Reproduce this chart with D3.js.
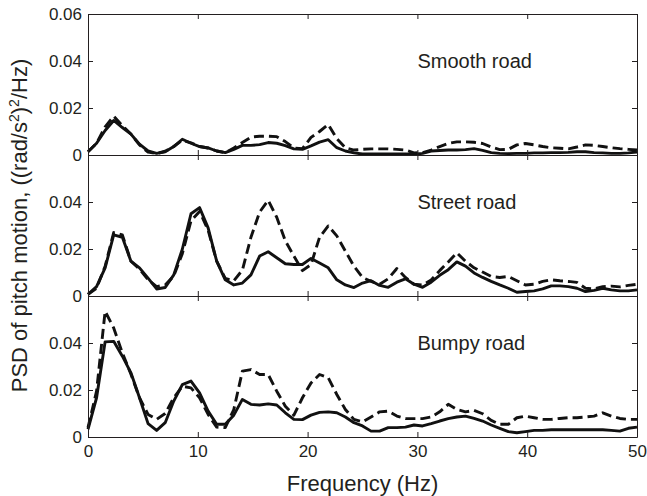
<!DOCTYPE html>
<html>
<head>
<meta charset="utf-8">
<script src="https://cdn.jsdelivr.net/npm/d3@7"></script>
<style>
  body { margin: 0; background: #fff; }
  svg text { font-family: "Liberation Sans", Arial, Helvetica, sans-serif; fill: #231f20; }
</style>
</head>
<body>
<script>
// frequency bins (Hz)
const freq = [0, 0.78, 1.56, 2.34, 3.13, 3.91, 4.69, 5.47, 6.25, 7.03, 7.81, 8.59, 9.38, 10.16, 10.94, 11.72,
  12.5, 13.28, 14.06, 14.84, 15.63, 16.41, 17.19, 17.97, 18.75, 19.53, 20.31, 21.09, 21.88, 22.66, 23.44, 24.22,
  25, 25.78, 26.56, 27.34, 28.13, 28.91, 29.69, 30.47, 31.25, 32.03, 32.81, 33.59, 34.38, 35.16, 35.94, 36.72,
  37.5, 38.28, 39.06, 39.84, 40.63, 41.41, 42.19, 42.97, 43.75, 44.53, 45.31, 46.09, 46.88, 47.66, 48.44, 49.22, 50]

// smooth road
const smoothSolid = [0.0014, 0.005, 0.0104, 0.0147, 0.0117, 0.0089, 0.0046, 0.0017, 0.0007, 0.0014, 0.0036, 0.0067,
  0.005, 0.0036, 0.003, 0.0017, 0.001, 0.0024, 0.0041, 0.0041, 0.0044, 0.0053, 0.005, 0.004, 0.0026, 0.0024,
  0.0039, 0.0055, 0.0065, 0.0031, 0.0017, 0.0009, 0.0004, 0.0004, 0.0004, 0.0004, 0.0004, 0.0004, 0.0003, 0.0007,
  0.0017, 0.0019, 0.0021, 0.0021, 0.0023, 0.0027, 0.002, 0.001, 0.0007, 0.0006, 0.0007, 0.0007, 0.0009, 0.0009,
  0.001, 0.001, 0.0011, 0.0014, 0.0014, 0.001, 0.0009, 0.0007, 0.0007, 0.0009, 0.0013]
const smoothDashed = [0.0014, 0.005, 0.012, 0.0165, 0.0125, 0.0089, 0.0043, 0.0012, 0.0006, 0.0016, 0.0036, 0.0063,
  0.0052, 0.0036, 0.003, 0.0017, 0.001, 0.003, 0.0053, 0.0076, 0.008, 0.008, 0.0078, 0.0057, 0.003, 0.0027,
  0.0075, 0.01, 0.013, 0.007, 0.0031, 0.0021, 0.0024, 0.0026, 0.0026, 0.0026, 0.0024, 0.0021, 0.0009, 0.001,
  0.0021, 0.0036, 0.0049, 0.0056, 0.0056, 0.0054, 0.0049, 0.0034, 0.0023, 0.0024, 0.0043, 0.0049, 0.0043, 0.0036,
  0.0031, 0.0029, 0.0026, 0.0034, 0.0043, 0.0041, 0.0036, 0.0031, 0.0027, 0.0024, 0.0021]

// street road
const streetSolid = [0.0007, 0.004, 0.012, 0.026, 0.025, 0.0148, 0.012, 0.0076, 0.003, 0.0036, 0.009, 0.0199,
  0.035, 0.0376, 0.029, 0.0148, 0.0069, 0.0047, 0.0055, 0.009, 0.017, 0.0188, 0.0163, 0.0137, 0.0134, 0.0134,
  0.016, 0.014, 0.012, 0.0069, 0.0047, 0.0036, 0.0055, 0.0065, 0.0045, 0.0037, 0.0059, 0.0073, 0.005, 0.0037,
  0.0059, 0.0088, 0.0112, 0.0145, 0.0127, 0.0098, 0.0079, 0.0062, 0.0047, 0.0033, 0.0016, 0.0019, 0.0022, 0.003,
  0.0043, 0.0043, 0.004, 0.0033, 0.0019, 0.0024, 0.0033, 0.0026, 0.0022, 0.0022, 0.0026]
const streetDashed = [0.0007, 0.0033, 0.0127, 0.027, 0.026, 0.0148, 0.0115, 0.007, 0.004, 0.0047, 0.0085, 0.018,
  0.032, 0.036, 0.028, 0.0148, 0.0075, 0.0065, 0.011, 0.025, 0.0357, 0.0407, 0.0335, 0.0235, 0.017, 0.0108,
  0.0134, 0.025, 0.0298, 0.0256, 0.0191, 0.0127, 0.0079, 0.0062, 0.005, 0.0073, 0.0117, 0.0079, 0.005, 0.0047,
  0.0068, 0.0108, 0.0145, 0.0184, 0.0148, 0.012, 0.0102, 0.0083, 0.0079, 0.0083, 0.0065, 0.0047, 0.005, 0.0062,
  0.0069, 0.0065, 0.0062, 0.0058, 0.0033, 0.003, 0.004, 0.0042, 0.0039, 0.0045, 0.005]

// bumpy road
const bumpySolid = [0.0033, 0.0167, 0.0405, 0.0407, 0.0344, 0.0273, 0.0167, 0.0057, 0.0028, 0.0061, 0.0153, 0.0223,
  0.0238, 0.0188, 0.011, 0.0054, 0.0054, 0.0093, 0.016, 0.0139, 0.0136, 0.0141, 0.0136, 0.0103, 0.0075, 0.0074,
  0.0093, 0.0105, 0.0107, 0.0103, 0.0085, 0.0061, 0.0047, 0.0025, 0.0025, 0.004, 0.004, 0.0042, 0.0051, 0.0047,
  0.0057, 0.0068, 0.0078, 0.0085, 0.0089, 0.0079, 0.0068, 0.0051, 0.0037, 0.0023, 0.0018, 0.0023, 0.0028, 0.0028,
  0.0031, 0.0031, 0.0031, 0.0031, 0.0031, 0.0031, 0.0031, 0.0028, 0.0025, 0.0037, 0.0042]
const bumpyDashed = [0.004, 0.0195, 0.0535, 0.0464, 0.0358, 0.0267, 0.0167, 0.0096, 0.0075, 0.01, 0.0167, 0.0216,
  0.0209, 0.0167, 0.0096, 0.0042, 0.004, 0.0117, 0.028, 0.0287, 0.0266, 0.0266, 0.0195, 0.0131, 0.0093, 0.0167,
  0.023, 0.0266, 0.0252, 0.0181, 0.0117, 0.0075, 0.0064, 0.0085, 0.0107, 0.011, 0.0089, 0.0078, 0.0078, 0.0078,
  0.0085, 0.0107, 0.0139, 0.0117, 0.0107, 0.0113, 0.0099, 0.0071, 0.0054, 0.0054, 0.0082, 0.0089, 0.0082, 0.0075,
  0.0075, 0.0079, 0.0082, 0.0082, 0.0085, 0.0089, 0.0103, 0.0089, 0.0079, 0.0075, 0.0075]

const panelNames = ["Smooth road", "Street road", "Bumpy road"]
const xTicks = [0, 10, 20, 30, 40, 50]
const yTicksTop = [0, 0.02, 0.04, 0.06]
const yTicks = [0, 0.02, 0.04]

const panels = [
  { name: panelNames[0], solid: smoothSolid, dashed: smoothDashed, ticks: yTicksTop },
  { name: panelNames[1], solid: streetSolid, dashed: streetDashed, ticks: yTicks },
  { name: panelNames[2], solid: bumpySolid, dashed: bumpyDashed, ticks: yTicks }
]

const W = 647, H = 496
const plotLeft = 88, plotRight = 637, plotTop = 14, panelH = 141

const svg = d3.select("body")
  .append("svg")
    .attr("width", W)
    .attr("height", H)

const x = d3.scaleLinear().domain([0, 50]).range([plotLeft, plotRight])

const fmt = d => d === 0 ? "0" : d.toFixed(2)

panels.forEach((p, i) => {
  const y0 = plotTop + i * panelH
  const y = d3.scaleLinear().domain([0, 0.06]).range([y0 + panelH, y0])

  const g = svg.append("g")

  // curves
  const line = d3.line()
    .x((d, j) => x(freq[j]))
    .y(d => y(d))

  g.append("path")
    .attr("d", line(p.dashed))
    .attr("fill", "none")
    .attr("stroke", "#111")
    .attr("stroke-width", 2.9)
    .attr("stroke-dasharray", "10,5")
    .attr("stroke-linejoin", "round")

  g.append("path")
    .attr("d", line(p.solid))
    .attr("fill", "none")
    .attr("stroke", "#111")
    .attr("stroke-width", 2.9)
    .attr("stroke-linejoin", "round")

  // axes, ticks pointing inwards
  g.append("g")
    .attr("transform", "translate(" + plotLeft + ",0)")
    .call(d3.axisLeft(y).tickValues(p.ticks).tickFormat(fmt).tickSizeInner(-5).tickSizeOuter(0).tickPadding(6))

  g.append("g")
    .attr("transform", "translate(" + plotRight + ",0)")
    .call(d3.axisRight(y).tickValues(p.ticks).tickFormat("").tickSizeInner(-5).tickSizeOuter(0))

  g.append("g")
    .attr("transform", "translate(0," + y0 + ")")
    .call(d3.axisTop(x).tickValues(xTicks).tickFormat("").tickSizeInner(-5).tickSizeOuter(0))

  g.append("g")
    .attr("transform", "translate(0," + (y0 + panelH) + ")")
    .call(d3.axisBottom(x).tickValues(xTicks)
      .tickFormat(i === 2 ? d3.format("d") : "")
      .tickSizeInner(-5).tickSizeOuter(0).tickPadding(8))

  g.selectAll(".domain, .tick line").attr("stroke", "#231f20").attr("stroke-width", 1)
  g.selectAll(".tick text").attr("font-size", 17).attr("fill", "#231f20")

  g.append("text")
    .attr("x", x(30))
    .attr("y", y(0.0371))
    .attr("font-size", 20)
    .text(p.name)
})

// axis labels
svg.append("text")
  .attr("x", (plotLeft + plotRight) / 2)
  .attr("y", 491)
  .attr("text-anchor", "middle")
  .attr("font-size", 22)
  .text("Frequency (Hz)")

const ylab = svg.append("text")
  .attr("transform", "translate(27," + (plotTop + 1.5 * panelH) + ") rotate(-90)")
  .attr("text-anchor", "middle")
  .attr("font-size", 22)

ylab.append("tspan").text("PSD of pitch motion, ((rad/s")
ylab.append("tspan").attr("font-size", 14).attr("dy", -8).text("2")
ylab.append("tspan").attr("dy", 8).text(")")
ylab.append("tspan").attr("font-size", 14).attr("dy", -8).text("2")
ylab.append("tspan").attr("dy", 8).text("/Hz)")
</script>
</body>
</html>
